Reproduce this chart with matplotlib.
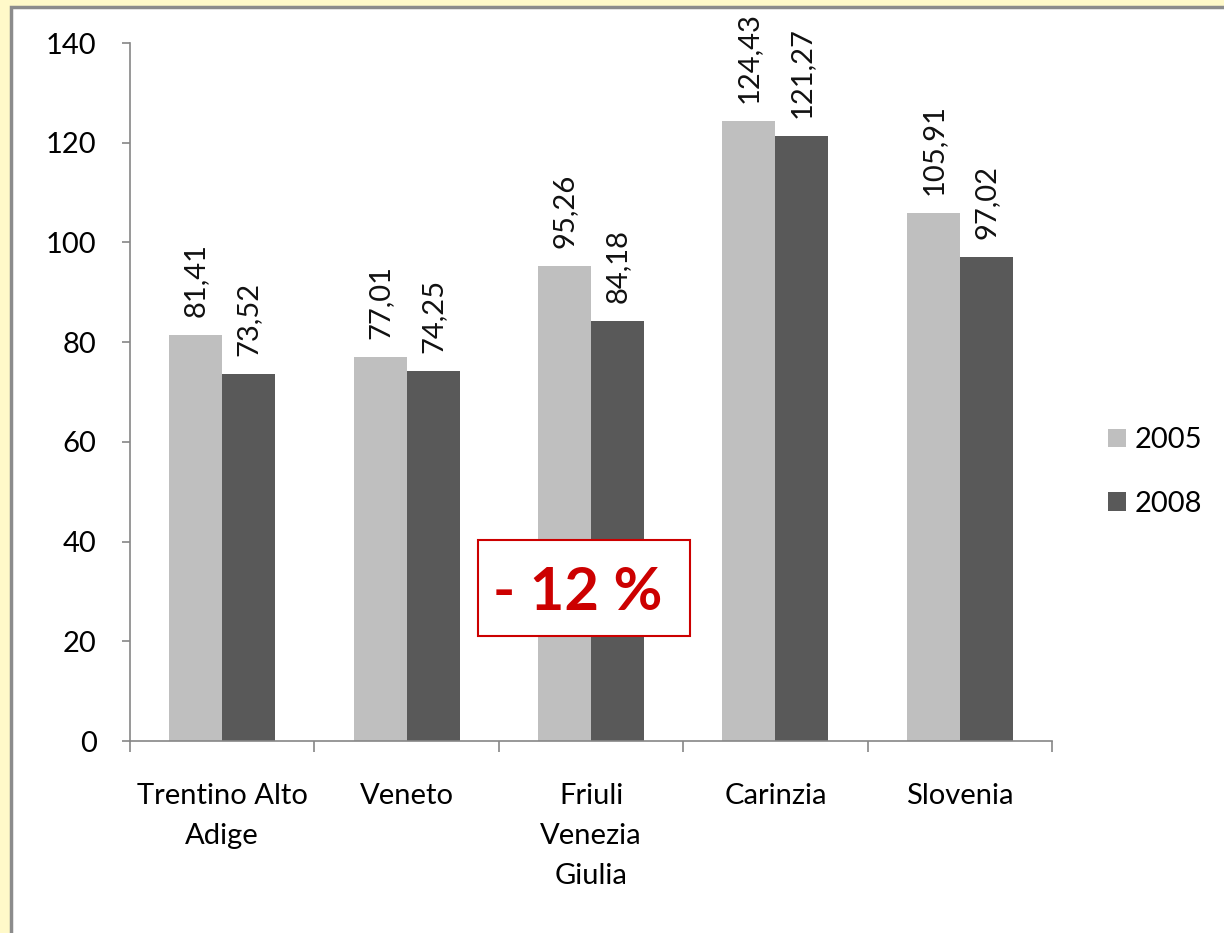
import numpy as np
import matplotlib
matplotlib.use("Agg")
import matplotlib.pyplot as plt
from matplotlib.patches import Rectangle

# data
regions = ["Trentino Alto\nAdige", "Veneto", "Friuli\nVenezia\nGiulia", "Carinzia", "Slovenia"]
years = ["2005", "2008"]
v2005 = [81.41, 77.01, 95.26, 124.43, 105.91]
v2008 = [73.52, 74.25, 84.18, 121.27, 97.02]
note = "- 12 %"

LIGHT = "#BFBFBF"; DARK = "#595959"; AXC = "#868686"; RED = "#CC0000"
plt.rcParams["font.family"] = ["Lato", "DejaVu Sans"]
FS = 21

W, H = 1224, 933
fig = plt.figure(figsize=(W/100, H/100), dpi=100, facecolor="#FFF9C9")

# white panel with grey frame (behind everything)
fig.patches.append(Rectangle((11/W, -0.01), 1.02, 1 - 7/H + 0.01, transform=fig.transFigure,
                             facecolor="white", edgecolor="#8C8C8C", lw=2.5, zorder=-10))

ax = fig.add_axes([130/W, 1 - 741/H, (1052 - 130)/W, (741 - 43)/H])
ax.set_facecolor("none")
x = np.arange(len(regions)); w = 0.2875
b1 = ax.bar(x - w/2, v2005, w, color=LIGHT, label=years[0])
b2 = ax.bar(x + w/2, v2008, w, color=DARK, label=years[1])
for bars in (b1, b2):
    for b in bars:
        h = b.get_height()
        ax.annotate(f"{h:.2f}".replace(".", ","), (b.get_x() + b.get_width()/2, h),
                    xytext=(0, 13), textcoords="offset points", rotation=90,
                    ha="center", va="bottom", fontsize=FS, color="#111111")

ax.set_xlim(-0.5, len(regions) - 0.5)
ax.set_ylim(0, 140)
ax.set_yticks(range(0, 141, 20))
ax.set_xticks(np.arange(-0.5, len(regions), 1.0))
ax.set_xticklabels([])
ax.set_xticks(x, minor=True)
ax.set_xticklabels(regions, minor=True, fontsize=FS)
for t in ax.get_xticklabels(minor=True):
    t.set_linespacing(1.68)
ax.tick_params(axis="x", which="major", length=8, color=AXC, width=1.2)
ax.tick_params(axis="x", which="minor", length=0, pad=30)
ax.tick_params(axis="y", length=6, color=AXC, width=1.2, pad=18, labelsize=FS)
for s in ("top", "right"):
    ax.spines[s].set_visible(False)
for s in ("left", "bottom"):
    ax.spines[s].set_color(AXC); ax.spines[s].set_linewidth(1.2)

leg = ax.legend(loc="center left", bbox_to_anchor=(1082/W, 1 - 472/H), bbox_transform=fig.transFigure,
                frameon=False, fontsize=FS, handlelength=0.6, handleheight=0.6,
                handletextpad=0.3, labelspacing=1.3)

# red annotation box
fig.patches.append(Rectangle((478/W, 1 - 636/H), (690 - 478)/W, (636 - 540)/H,
                             transform=fig.transFigure, facecolor="white", edgecolor=RED,
                             lw=1.5, zorder=5))
fig.text(578/W, 1 - 610/H, note, ha="center", va="baseline", fontsize=43,
         fontweight="bold", color=RED, zorder=6)

fig.savefig("out.png", dpi=100, facecolor=fig.get_facecolor())
